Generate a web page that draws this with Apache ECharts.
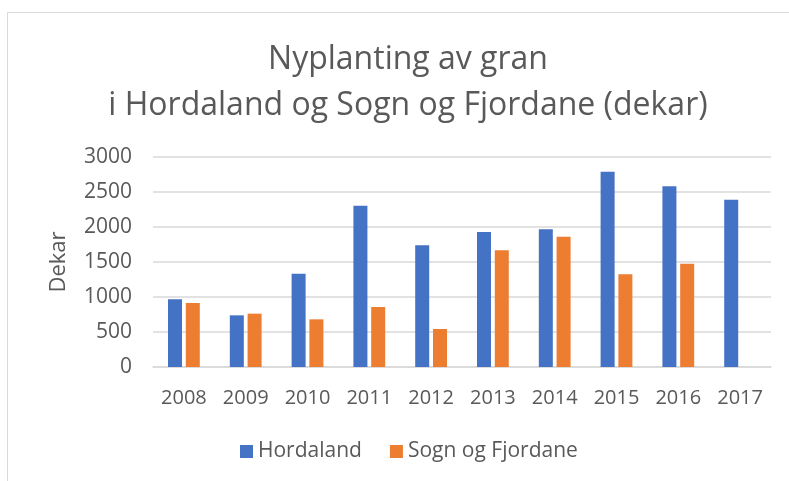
<!DOCTYPE html>
<html>
<head>
<meta charset="utf-8">
<script src="https://cdn.jsdelivr.net/npm/echarts@6/dist/echarts.min.js"></script>
<style>
  html, body { margin: 0; padding: 0; background: #fff; }
  #chart { width: 789px; height: 481px; }
</style>
</head>
<body>
<div id="chart"></div>
<script>
  // data
  let years = ['2008', '2009', '2010', '2011', '2012', '2013', '2014', '2015', '2016', '2017'];
  let hordaland = [967, 738, 1333, 2305, 1738, 1929, 1967, 2790, 2581, 2390];
  let sognFjordane = [914, 762, 681, 857, 543, 1667, 1862, 1324, 1476, null];
  let yTicks = [0, 500, 1000, 1500, 2000, 2500, 3000];

  let font = '"Open Sans", sans-serif';
  let textColor = '#595959';

  let chart = echarts.init(document.getElementById('chart'));
  let option = {
    color: ['#4472C4', '#ED7D31'],
    animation: false,
    textStyle: { fontFamily: font },
    graphic: [
      {
        type: 'rect',
        shape: { x: 7.5, y: 12.5, width: 800, height: 500 },
        style: { fill: 'none', stroke: '#d9d9d9', lineWidth: 1 },
        silent: true
      }
    ],
    title: {
      text: 'Nyplanting av gran\ni Hordaland og Sogn og Fjordane (dekar)',
      left: 403,
      textAlign: 'center',
      top: 32,
      textStyle: {
        color: textColor,
        fontFamily: font,
        fontWeight: 'normal',
        fontSize: 32,
        lineHeight: 46
      }
    },
    legend: {
      data: ['Hordaland', 'Sogn og Fjordane'],
      bottom: 14,
      left: 235,
      icon: 'rect',
      itemWidth: 13,
      itemHeight: 13,
      itemGap: 28,
      itemStyle: { borderWidth: 0 },
      textStyle: { color: textColor, fontSize: 21, fontFamily: font }
    },
    grid: {
      left: 153,
      right: 18,
      top: 157,
      bottom: 114
    },
    xAxis: {
      type: 'category',
      data: years,
      axisLine: { lineStyle: { color: '#d9d9d9', width: 1.5 } },
      axisTick: { show: false },
      axisLabel: { color: textColor, fontSize: 20, margin: 21, fontFamily: font }
    },
    yAxis: {
      type: 'value',
      name: 'Dekar',
      nameLocation: 'middle',
      nameGap: 83,
      nameTextStyle: { color: textColor, fontSize: 22, fontFamily: font },
      min: yTicks[0],
      max: yTicks[yTicks.length - 1],
      interval: 500,
      axisLine: { show: false },
      axisTick: { show: false },
      splitLine: { lineStyle: { color: '#d9d9d9', width: 1.5 } },
      axisLabel: {
        color: textColor,
        fontSize: 21,
        margin: 21,
        fontFamily: font,
        formatter: (v) => String(v)
      }
    },
    series: [
      {
        name: 'Hordaland',
        type: 'bar',
        data: hordaland,
        barWidth: 14,
        barGap: '27%'
      },
      {
        name: 'Sogn og Fjordane',
        type: 'bar',
        data: sognFjordane,
        barWidth: 14,
        barGap: '27%'
      }
    ]
  };
  chart.setOption(option);
</script>
</body>
</html>
